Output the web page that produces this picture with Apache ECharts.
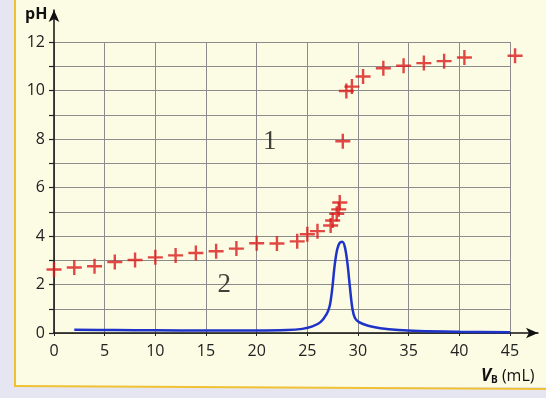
<!DOCTYPE html>
<html>
<head>
<meta charset="utf-8">
<script src="https://cdn.jsdelivr.net/npm/echarts@6/dist/echarts.min.js"></script>
<style>
html,body{margin:0;padding:0;background:#e6e6f3;}
#chart{width:546px;height:398px;}
</style>
</head>
<body>
<div id="chart"></div>
<script>
// Titration data: V_B (mL) and pH (red crosses)
const vB = [0, 2, 4, 6, 8, 10, 12, 14, 16, 18, 20, 22, 24, 25, 26, 27.3, 27.5, 27.9, 28.1, 28.2, 28.5, 28.85, 29.4, 30.5, 32.5, 34.5, 36.5, 38.5, 40.5, 45.5];
const pH = [2.62, 2.70, 2.75, 2.93, 3.01, 3.12, 3.20, 3.30, 3.37, 3.48, 3.70, 3.69, 3.78, 4.07, 4.20, 4.43, 4.64, 4.92, 5.10, 5.38, 7.91, 9.98, 10.16, 10.58, 10.92, 11.02, 11.13, 11.21, 11.36, 11.43];
// Derivative curve dpH/dV (blue line)
const vDeriv = [2, 6, 10, 15, 20, 23, 24.5, 25.5, 26.3, 26.9, 27.2, 27.45, 27.7, 27.95, 28.2, 28.45, 28.7, 28.95, 29.2, 29.45, 29.7, 30.1, 31, 32.2, 34, 36, 40, 45];
const deriv = [0.13, 0.12, 0.11, 0.10, 0.10, 0.12, 0.17, 0.27, 0.45, 0.78, 1.10, 1.80, 2.80, 3.45, 3.72, 3.76, 3.55, 2.90, 1.90, 1.00, 0.62, 0.45, 0.30, 0.20, 0.12, 0.08, 0.05, 0.03];
// Axis tick values
const xTickValues = [0, 5, 10, 15, 20, 25, 30, 35, 40, 45];
const yTickLabels = [0, 2, 4, 6, 8, 10, 12];
const curveLabels = [{text: '1', v: 21.3, p: 7.9}, {text: '2', v: 16.8, p: 2.0}];

const chart = echarts.init(document.getElementById('chart'), null, {renderer: 'canvas'});
const crossPath = 'path://M-1,-0.16L-0.16,-0.16L-0.16,-1L0.16,-1L0.16,-0.16L1,-0.16L1,0.16L0.16,0.16L0.16,1L-0.16,1L-0.16,0.16L-1,0.16Z';
const fontFam = '"Open Sans", "Noto Sans", sans-serif';

const option = {
  animation: false,
  backgroundColor: 'transparent',
  graphic: [
    {type: 'rect', z: -10, shape: {x: 15, y: -2, width: 540, height: 389}, style: {fill: '#fcfce4'}},
    {type: 'line', z: -9, shape: {x1: 15, y1: 0, x2: 15, y2: 387}, style: {stroke: '#f0c233', lineWidth: 2}},
    {type: 'line', z: -9, shape: {x1: 15, y1: 386, x2: 546, y2: 389}, style: {stroke: '#f0c233', lineWidth: 2}},
    {type: 'text', left: 25, top: 6, style: {text: 'pH', font: 'bold 16px ' + fontFam, fill: '#111'}},
    {type: 'text', left: 481, top: 368, style: {
      text: '{v|V}{b|B}{u| (mL)}',
      rich: {
        v: {font: 'italic bold 17px ' + fontFam, fill: '#111'},
        b: {font: 'bold 10px ' + fontFam, fill: '#111', padding: [8, 0, 0, 0]},
        u: {font: '16px ' + fontFam, fill: '#111'}
      }
    }}
  ],
  grid: [
    {left: 54, right: 36, top: 42, bottom: 65, containLabel: false},
    {left: 54, right: 8, top: 10, bottom: 65, containLabel: false}
  ],
  xAxis: [
    {
      type: 'value', gridIndex: 0, min: 0, max: 45, interval: 5,
      axisLine: {show: false},
      axisTick: {show: true, length: 3, lineStyle: {color: '#222'}},
      axisLabel: {color: '#222', fontSize: 16, fontFamily: fontFam, margin: 10,
        formatter: v => xTickValues.indexOf(v) >= 0 ? String(v) : ''},
      splitLine: {show: true, lineStyle: {color: '#8c8c8c', width: 1}}
    },
    {
      type: 'value', gridIndex: 1, min: 0, max: 1,
      axisLine: {show: true, symbol: ['none', 'arrow'], symbolSize: [8, 12], lineStyle: {color: '#111', width: 1.5}},
      axisTick: {show: false}, axisLabel: {show: false}, splitLine: {show: false}
    }
  ],
  yAxis: [
    {
      type: 'value', gridIndex: 0, min: 0, max: 12, interval: 1,
      axisLine: {show: false},
      axisTick: {show: true, length: 5, inside: false, lineStyle: {color: '#222', width: 1.2}},
      axisLabel: {color: '#222', fontSize: 16, fontFamily: fontFam, margin: 9,
        formatter: v => yTickLabels.indexOf(v) >= 0 ? String(v) : ''},
      splitLine: {show: true, lineStyle: {color: '#8c8c8c', width: 1}}
    },
    {
      type: 'value', gridIndex: 1, min: 0, max: 1,
      axisLine: {show: true, symbol: ['none', 'arrow'], symbolSize: [8, 12], lineStyle: {color: '#111', width: 1.5}},
      axisTick: {show: false}, axisLabel: {show: false}, splitLine: {show: false}
    }
  ],
  series: [
    {
      type: 'line', xAxisIndex: 0, yAxisIndex: 0,
      data: vDeriv.map((v, i) => [v, deriv[i]]),
      smooth: 0.35, showSymbol: false,
      lineStyle: {color: '#1f33c8', width: 2.5},
      z: 3
    },
    {
      type: 'scatter', xAxisIndex: 0, yAxisIndex: 0,
      data: vB.map((v, i) => [v, pH[i]]),
      symbol: crossPath, symbolSize: 15, clip: false,
      itemStyle: {color: '#da1a1a'},
      z: 4
    },
    {
      type: 'scatter', xAxisIndex: 0, yAxisIndex: 0,
      data: curveLabels.map(d => ({value: [d.v, d.p], name: d.text})),
      symbolSize: 0,
      label: {show: true, position: 'inside', formatter: p => p.name,
        fontFamily: '"Liberation Serif", "DejaVu Serif", serif', fontSize: 27, color: '#111'},
      z: 5
    }
  ]
};
chart.setOption(option);
</script>
</body>
</html>
